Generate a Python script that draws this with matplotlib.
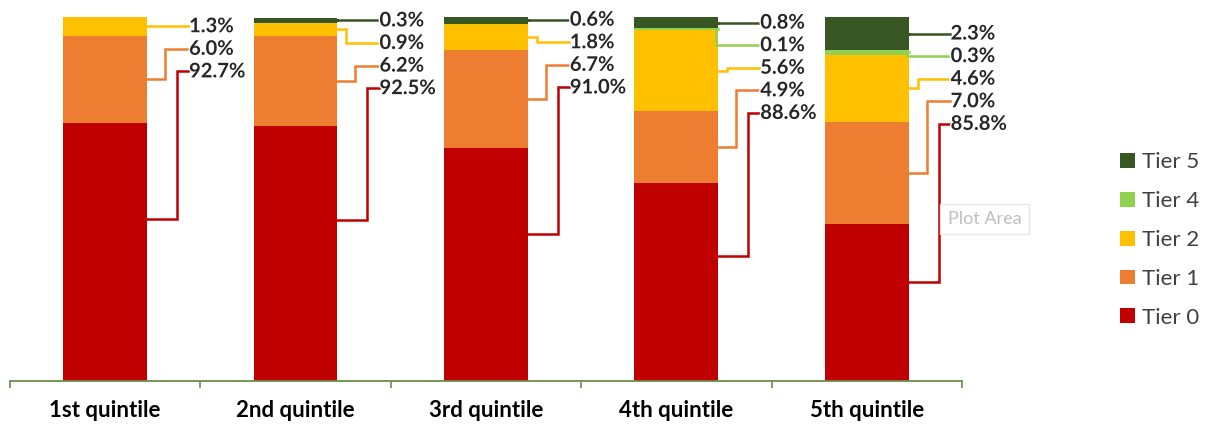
import matplotlib.pyplot as plt
import numpy as np
from matplotlib.patches import Patch
import matplotlib.patheffects as pe

plt.rcParams['font.family'] = ['Lato', 'DejaVu Sans']

quintiles = ['1st quintile', '2nd quintile', '3rd quintile', '4th quintile', '5th quintile']
tier0 = [92.7, 92.5, 91.0, 88.6, 85.8]
tier1 = [6.0, 6.2, 6.7, 4.9, 7.0]
tier2 = [1.3, 0.9, 1.8, 5.6, 4.6]
tier4 = [0.0, 0.0, 0.0, 0.1, 0.3]
tier5 = [0.0, 0.3, 0.6, 0.8, 2.3]

names = ['Tier 0', 'Tier 1', 'Tier 2', 'Tier 4', 'Tier 5']
colors = ['#C00000', '#ED7D31', '#FFC000', '#92D050', '#375623']
series = [tier0, tier1, tier2, tier4, tier5]

ymin = 75.0
fig = plt.figure(figsize=(12.08, 4.30), dpi=100)
ax = fig.add_axes([0.0083, 0.114, 0.788, 0.847])

x = np.arange(len(quintiles))
width = 0.44
bottom = np.zeros(len(quintiles))
for vals, name, c in zip(series, names, colors):
    ax.bar(x, vals, width, bottom=bottom, color=c, label=name, edgecolor='none')
    bottom += np.array(vals)

ax.set_xlim(-0.5, len(quintiles) - 0.5)
ax.set_ylim(ymin, 100)

# leader lines and value labels, stacked to the right of each bar
px = 190.4          # pixels per category
step = 1.55         # label spacing (y units)
elbow_px = [12, 24, 33, 44, 44]
for i in range(len(quintiles)):
    cum = np.cumsum([s[i] for s in series])
    label_x = x[i] + width / 2 + 42 / px
    ly = None
    for k in range(len(series) - 1, -1, -1):
        v = series[k][i]
        if v <= 0:
            continue
        top = cum[k]
        clipped = top - v < ymin
        vis = top - max(top - v, ymin)
        attach = top - (0.37 if clipped else 0.5) * vis
        if ly is None:
            ly = min(attach, 99.9)
        else:
            ly = ly - step
        ex = label_x - elbow_px[k] / px
        ax.plot([x[i] + width / 2, ex, ex, label_x - 0.004], [attach, attach, ly, ly],
                color=colors[k], lw=1.8, clip_on=False, solid_joinstyle='miter')
        ax.text(label_x, ly, f'{v:.1f}%', ha='left', va='center', fontsize=14.5,
                fontweight='bold', color='#262626', clip_on=False,
                path_effects=[pe.withStroke(linewidth=2, foreground='white')])

for s in ['top', 'right', 'left']:
    ax.spines[s].set_visible(False)
ax.spines['bottom'].set_color('#6B8E4E')
ax.spines['bottom'].set_linewidth(1.3)
ax.set_yticks([])
ax.set_xticks(x)
ax.set_xticklabels(quintiles, fontsize=16, fontweight='bold', color='black')
ax.set_xticks(np.arange(-0.5, len(quintiles)), minor=True)
ax.tick_params(axis='x', which='major', length=0, pad=14)
ax.tick_params(axis='x', which='minor', length=5, width=1.2, color='#6B8E4E', direction='out')

handles = [Patch(facecolor=colors[k], label=names[k]) for k in range(len(names) - 1, -1, -1)]
fig.legend(handles=handles, loc='center left', bbox_to_anchor=(0.911, 0.442), frameon=False,
           fontsize=16, labelcolor='#404040', handlelength=0.65, handleheight=0.65,
           handletextpad=0.3, labelspacing=0.85)

fig.text(0.815, 0.491, 'Plot Area', ha='center', va='center', fontsize=13, color='#BFBFBF',
         zorder=10, bbox=dict(boxstyle='square,pad=0.4', facecolor='white', edgecolor='#E4E4E4',
                              alpha=0.9))

fig.savefig('out.png', dpi=100)
